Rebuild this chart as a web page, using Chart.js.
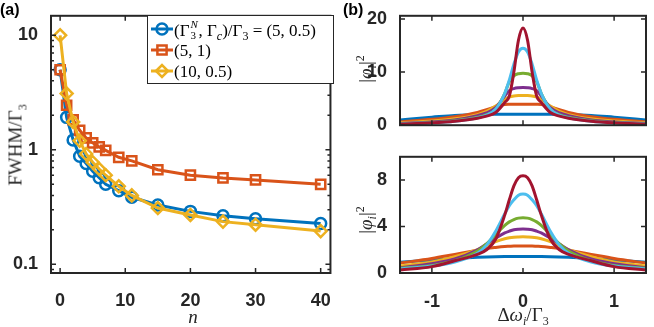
<!DOCTYPE html>
<html>
<head>
<meta charset="utf-8">
<script src="https://cdn.jsdelivr.net/npm/chart.js@4"></script>
<style>
body { margin: 0; background: #fff; }
#wrap { position: relative; width: 654px; height: 327px; overflow: hidden; }
canvas { position: absolute; }
.lbl { position: absolute; font-family: 'Liberation Serif', serif; font-size: 19px; color: #262626; white-space: nowrap; line-height: 1; }
.rot { transform: translate(-50%, -50%) rotate(-90deg); }
.ctr { transform: translate(-50%, -50%); }
.leg { position: absolute; left: 174px; font-family: 'Liberation Serif', serif; font-size: 17px; color: #000; white-space: nowrap; line-height: 1; transform: translateY(-50%); }
.pl { position: absolute; font: bold 16px 'Liberation Sans', Arial, sans-serif; color: #000; }
sub, sup { font-size: 12px; line-height: 0; }
.ss { position: relative; display: inline-block; width: 9px; height: 17px; }
.ss > * { position: absolute; left: 1px; font-size: 11px; line-height: 1; }
.ss > i { top: 0; }
.ss > span { top: 11px; }
</style>
</head>
<body>
<div id="wrap">
  <canvas id="cA" width="340" height="327" style="left:0;top:0"></canvas>
  <canvas id="cB1" width="314" height="141" style="left:340px;top:0"></canvas>
  <canvas id="cB2" width="314" height="186" style="left:340px;top:141px"></canvas>

  <div class="pl" style="left:0;top:1px">(a)</div>
  <div class="pl" style="left:343px;top:1px">(b)</div>

  <div class="lbl rot" style="left:15px;top:145px">FWHM/Γ<sub>3</sub></div>
  <div class="lbl ctr" style="left:193px;top:316px"><i>n</i></div>
  <div class="lbl ctr" style="left:523px;top:314px">Δ<i>ω<sub>i</sub></i>/Γ<sub>3</sub></div>
  <div class="lbl rot" style="left:365px;top:69px">|<i>φ<sub>i</sub></i>|<sup>2</sup></div>
  <div class="lbl rot" style="left:365px;top:220px">|<i>φ<sub>i</sub></i>|<sup>2</sup></div>

  <div class="leg" style="top:29px">(Γ<span class="ss"><i>N</i><span>3</span></span>, Γ<sub><i>c</i></sub>)/Γ<sub>3</sub> = (5, 0.5)</div>
  <div class="leg" style="top:50px">(5, 1)</div>
  <div class="leg" style="top:71px">(10, 0.5)</div>
</div>
<script>
// panel (a): FWHM vs n
const nValues = [0, 1, 2, 3, 4, 5, 6, 7, 9, 11, 15, 20, 25, 30, 40];
const fwhmBlue = [5.0, 1.92, 1.22, 0.88, 0.76, 0.65, 0.57, 0.5, 0.44, 0.385, 0.33, 0.29, 0.265, 0.25, 0.227];
const fwhmOrange = [5.0, 2.45, 1.83, 1.48, 1.27, 1.15, 1.06, 0.99, 0.86, 0.8, 0.67, 0.6, 0.568, 0.546, 0.5];
const fwhmYellow = [10, 3.1, 1.75, 1.2, 0.92, 0.78, 0.68, 0.6, 0.48, 0.4, 0.31, 0.27, 0.236, 0.222, 0.195];
const xTicksA = [0, 10, 20, 30, 40];
const yTicksA = [0.1, 1, 10];

// panel (b): |phi_i|^2 vs detuning, read at these offsets (curves are symmetric)
const omegaHalf = [0, 0.05, 0.1, 0.15, 0.2, 0.3, 0.4, 0.5, 0.75, 1.0, 1.35];
const topBlue   = [2.06, 2.06, 2.06, 2.06, 2.06, 2.05, 2.04, 2.02, 1.85, 1.5, 1.0];
const topOrange = [3.95, 3.95, 3.95, 3.93, 3.9, 3.5, 2.9, 2.4, 1.6, 1.1, 0.62];
const topYellow = [5.6, 5.58, 5.5, 5.3, 4.9, 3.6, 2.6, 2.0, 1.2, 0.8, 0.45];
const topPurple = [7.1, 7.05, 6.9, 6.5, 5.5, 3.3, 2.3, 1.8, 1.0, 0.6, 0.32];
const topGreen  = [9.8, 9.7, 9.3, 8.2, 6.0, 3.0, 2.0, 1.5, 0.85, 0.5, 0.28];
const topLBlue  = [14.5, 13.8, 11.5, 8.5, 6.0, 3.0, 1.9, 1.4, 0.75, 0.45, 0.25];
const topRed    = [18.3, 16, 10, 5.5, 4.3, 2.4, 1.7, 1.3, 0.75, 0.45, 0.22];
const botBlue   = [1.41, 1.41, 1.41, 1.41, 1.41, 1.4, 1.38, 1.35, 1.25, 1.12, 0.92];
const botOrange = [2.33, 2.33, 2.32, 2.3, 2.28, 2.2, 2.1, 1.95, 1.6, 1.25, 0.85];
const botYellow = [3.11, 3.1, 3.08, 3.03, 2.95, 2.7, 2.35, 2.0, 1.4, 0.95, 0.6];
const botPurple = [3.79, 3.77, 3.72, 3.6, 3.45, 3.0, 2.5, 2.0, 1.2, 0.8, 0.45];
const botGreen  = [4.76, 4.72, 4.6, 4.4, 4.1, 3.3, 2.5, 1.9, 1.05, 0.65, 0.4];
const botLBlue  = [6.8, 6.7, 6.3, 5.8, 5.1, 3.6, 2.4, 1.7, 0.95, 0.6, 0.35];
const botRed    = [8.37, 8.2, 7.5, 6.3, 5.0, 2.9, 2.0, 1.6, 1.05, 0.55, 0.25];
const xTicksB = [-1, 0, 1];
const yTicksTop = [0, 10, 20];
const yTicksBot = [0, 4, 8];

const lineColors = ['#0072BD', '#D95319', '#EDB120', '#7E2F8E', '#77AC30', '#4DBEEE', '#A2142F'];
const axisColor = '#262626';
const tickFont = { family: "'Liberation Sans', Arial, sans-serif", weight: 'bold', size: 18 };

const pts = (xs, ys) => xs.map((x, i) => ({ x: x, y: ys[i] }));
const omega = [...omegaHalf.slice(1).reverse().map(v => -v), ...omegaHalf];
const mirror = half => [...half.slice(1).reverse(), ...half];

// box + inward ticks, MATLAB style
const frameTicks = {
    id: 'frameTicks',
    afterDatasetsDraw(chart, args, opts) {
        const { ctx, chartArea: a, scales: { x, y } } = chart;
        ctx.save();
        ctx.strokeStyle = axisColor;
        ctx.lineWidth = 1.5;
        ctx.beginPath();
        x.ticks.forEach(t => {
            const px = x.getPixelForValue(t.value);
            ctx.moveTo(px, a.bottom); ctx.lineTo(px, a.bottom - 5);
            ctx.moveTo(px, a.top); ctx.lineTo(px, a.top + 5);
        });
        y.ticks.forEach(t => {
            const py = y.getPixelForValue(t.value);
            ctx.moveTo(a.left, py); ctx.lineTo(a.left + 5, py);
            ctx.moveTo(a.right, py); ctx.lineTo(a.right - 5, py);
        });
        (opts.yMinor || []).forEach(v => {
            if (v < y.min || v > y.max) return;
            const py = y.getPixelForValue(v);
            ctx.moveTo(a.left, py); ctx.lineTo(a.left + 3, py);
            ctx.moveTo(a.right, py); ctx.lineTo(a.right - 3, py);
        });
        ctx.stroke();
        ctx.lineWidth = 2;
        ctx.strokeRect(a.left, a.top, a.right - a.left, a.bottom - a.top);
        ctx.restore();
    }
};

// legend box with line + marker samples (text is HTML on top)
const legendRows = [29, 50, 71];
const legendBox = {
    id: 'legendBox',
    afterDraw(chart) {
        const ctx = chart.ctx;
        ctx.save();
        ctx.fillStyle = '#fff';
        ctx.fillRect(147, 15, 186, 68);
        ctx.strokeStyle = axisColor;
        ctx.lineWidth = 1;
        ctx.strokeRect(147.5, 15.5, 186, 68);
        chart.data.datasets.forEach((d, i) => {
            const yy = legendRows[i];
            ctx.strokeStyle = d.borderColor;
            ctx.lineWidth = d.borderWidth;
            ctx.beginPath(); ctx.moveTo(151, yy); ctx.lineTo(173, yy); ctx.stroke();
            ctx.lineWidth = d.pointBorderWidth;
            ctx.fillStyle = 'rgba(0,0,0,0)';
            Chart.helpers.drawPoint(ctx, { pointStyle: d.pointStyle, radius: d.pointRadius, borderWidth: d.pointBorderWidth, rotation: 0 }, 162, yy);
        });
        ctx.restore();
    }
};

const series = (color, style, radius, ys, order) => ({
    data: pts(nValues, ys),
    borderColor: color,
    borderWidth: 3,
    pointStyle: style,
    pointRadius: radius,
    pointBorderWidth: 2.5,
    pointBorderColor: color,
    pointBackgroundColor: 'rgba(0,0,0,0)',
    order: order
});

const curve = (color, ys, order) => ({
    data: pts(omega, mirror(ys)),
    borderColor: color,
    borderWidth: 3,
    pointRadius: 0,
    cubicInterpolationMode: 'monotone',
    order: order
});

const baseOpts = {
    responsive: false,
    animation: false,
    events: [],
    plugins: { legend: { display: false }, tooltip: { enabled: false } }
};

// panel (a)
new Chart(document.getElementById('cA'), {
    type: 'line',
    data: {
        datasets: [
            series(lineColors[0], 'circle', 5.5, fwhmBlue, 2),
            series(lineColors[1], 'rect', 6.5, fwhmOrange, 1),
            series(lineColors[2], 'rectRot', 6, fwhmYellow, 0)
        ]
    },
    plugins: [frameTicks, legendBox],
    options: {
        ...baseOpts,
        layout: { padding: { top: 8, right: 3, left: 0, bottom: 0 } },
        plugins: { ...baseOpts.plugins, frameTicks: { yMinor: [0.09, 0.2, 0.3, 0.4, 0.5, 0.6, 0.7, 0.8, 0.9, 2, 3, 4, 5, 6, 7, 8, 9] } },
        scales: {
            x: {
                type: 'linear', min: -1.4, max: 41.5,
                afterBuildTicks: s => { s.ticks = xTicksA.map(v => ({ value: v })); },
                afterFit: s => { s.height = 54; },
                grid: { display: false }, border: { display: false },
                ticks: { font: tickFont, color: axisColor, padding: 9, maxRotation: 0, autoSkip: false }
            },
            y: {
                type: 'logarithmic', min: 0.084, max: 14.8,
                afterBuildTicks: s => { s.ticks = yTicksA.map(v => ({ value: v })); },
                afterFit: s => { s.width = 51; },
                grid: { display: false }, border: { display: false },
                ticks: { font: tickFont, color: axisColor, padding: 5, autoSkip: false, callback: v => String(v) }
            }
        }
    }
});

// panel (b) top and bottom
function panelB(id, sets, yMax, yTicks, padTop, xHeight, showX) {
    new Chart(document.getElementById(id), {
        type: 'line',
        data: { datasets: sets.map((ys, i) => curve(lineColors[i], ys, sets.length - i)) },
        plugins: [frameTicks],
        options: {
            ...baseOpts,
            layout: { padding: { top: padTop, right: 8, left: 0, bottom: 0 } },
            scales: {
                x: {
                    type: 'linear', min: -1.35, max: 1.35,
                    afterBuildTicks: s => { s.ticks = xTicksB.map(v => ({ value: v })); },
                    afterFit: s => { s.height = xHeight; },
                    grid: { display: false }, border: { display: false },
                    ticks: { display: showX, font: tickFont, color: axisColor, padding: 10, maxRotation: 0, autoSkip: false }
                },
                y: {
                    type: 'linear', min: 0, max: yMax,
                    afterBuildTicks: s => { s.ticks = yTicks.map(v => ({ value: v })); },
                    afterFit: s => { s.width = 60; },
                    grid: { display: false }, border: { display: false },
                    ticks: { font: tickFont, color: axisColor, padding: 5, autoSkip: false }
                }
            }
        }
    });
}

panelB('cB1', [topBlue, topOrange, topYellow, topPurple, topGreen, topLBlue, topRed], 20.6, yTicksTop, 8, 5, false);
panelB('cB2', [botBlue, botOrange, botYellow, botPurple, botGreen, botLBlue, botRed], 10, yTicksBot, 4, 54, true);
</script>
</body>
</html>
